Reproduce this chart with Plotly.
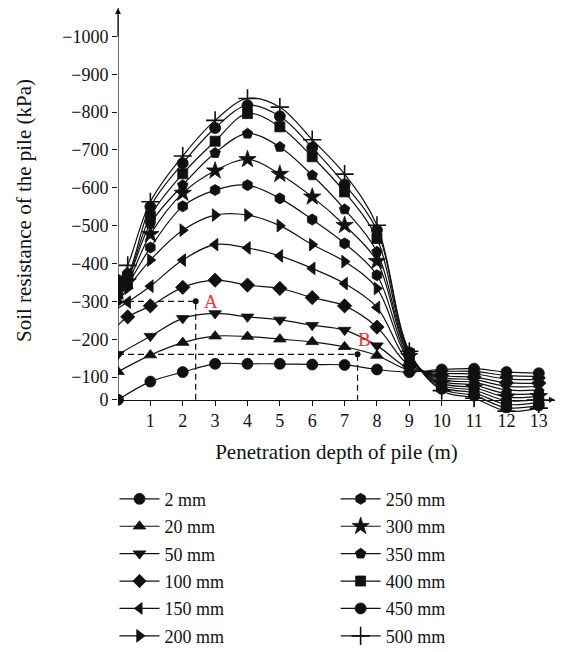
import plotly.graph_objects as go

# Penetration depth (m)
X_SMALL = [0, 1, 2, 3, 4, 5, 6, 7, 8, 9, 10, 11, 12, 13]
X_LARGE = [0, 0.3, 1, 2, 3, 4, 5, 6, 7, 8, 9, 10, 11, 12, 13]

# Soil resistance (kPa) for each pile displacement
R_2 = [-40, -88, -113, -135, -135, -135, -133, -132, -120, -113, -120, -122, -113, -110]
R_20 = [-114, -158, -191, -208, -207, -200, -193, -180, -157, -118, -115, -115, -104, -102]
R_50 = [-160, -208, -255, -268, -259, -251, -237, -224, -183, -122, -110, -108, -95, -93]
R_100 = [-237, -259, -288, -337, -356, -343, -334, -310, -288, -232, -130, -104, -100, -85, -84]
R_150 = [-282, -298, -340, -409, -450, -441, -420, -387, -347, -284, -137, -99, -93, -76, -75]
R_200 = [-298, -335, -409, -488, -528, -528, -500, -450, -405, -334, -145, -94, -86, -66, -66]
R_250 = [-315, -345, -442, -551, -594, -607, -572, -516, -453, -369, -150, -89, -79, -56, -57]
R_300 = [-325, -352, -477, -586, -645, -675, -636, -576, -501, -406, -155, -84, -72, -47, -49]
R_350 = [-335, -360, -505, -607, -692, -743, -708, -633, -543, -431, -158, -79, -65, -38, -41]
R_400 = [-342, -365, -525, -637, -723, -796, -761, -682, -589, -466, -162, -74, -58, -28, -33]
R_450 = [-356, -372, -550, -665, -758, -818, -789, -706, -609, -488, -165, -69, -51, -19, -25]
R_500 = [-345, -395, -563, -684, -778, -836, -813, -727, -636, -501, -168, -64, -44, -10, -18]

SERIES = [
    ("2 mm", X_SMALL, R_2, "circle", True),
    ("20 mm", X_SMALL, R_20, "triangle-up", True),
    ("50 mm", X_SMALL, R_50, "triangle-down", True),
    ("100 mm", X_LARGE, R_100, "diamond", False),
    ("150 mm", X_LARGE, R_150, "triangle-left", False),
    ("200 mm", X_LARGE, R_200, "triangle-right", True),
    ("250 mm", X_LARGE, R_250, "hexagon", True),
    ("300 mm", X_LARGE, R_300, "star", True),
    ("350 mm", X_LARGE, R_350, "pentagon", True),
    ("400 mm", X_LARGE, R_400, "square", True),
    ("450 mm", X_LARGE, R_450, "circle", True),
    ("500 mm", X_LARGE, R_500, "cross-thin", True),
]

# Reference points A and B with their dashed guides
POINT_LABELS = ["A", "B"]
POINT_X = [2.4, 7.4]
POINT_Y = [-300, -160]

Y_TICKS = [-100, -200, -300, -400, -500, -600, -700, -800, -900, -1000]
X_TICKS = [1, 2, 3, 4, 5, 6, 7, 8, 9, 10, 11, 12, 13]

Y_BASE = -40      # where the depth axis crosses
Y_LOW = -5        # lowest value shown (curves may dip below the depth axis)
Y_TOP = -1075
X_END = 13.5

FONT = "Liberation Serif"
INK = "#111111"
RED = "#e8362d"

fig = go.Figure()

for i, (name, xs, ys, sym, first_marker) in enumerate(SERIES):
    size = {"star": 13, "cross-thin": 13, "square": 10}.get(sym, 11)
    sizes = [size] * len(xs)
    if not first_marker:
        sizes[0] = 0
    if sym == "cross-thin":
        mline = dict(width=1.6, color=INK)
    else:
        mline = dict(width=0.8, color=INK)
    fig.add_trace(go.Scatter(
        x=xs, y=ys, name=name, mode="lines+markers",
        line=dict(color=INK, width=1.2, shape="spline", smoothing=1.0),
        marker=dict(symbol=sym, size=sizes, color=INK, opacity=1, line=mline),
        legendgroup=name,
        legend="legend" if i < 6 else "legend2",
    ))

for lbl, px, py in zip(POINT_LABELS, POINT_X, POINT_Y):
    fig.add_trace(go.Scatter(
        x=[0, px, px], y=[py, py, Y_BASE], mode="lines",
        line=dict(color=INK, width=1.2, dash="6px,4px"),
        showlegend=False, hoverinfo="skip",
    ))
    fig.add_trace(go.Scatter(
        x=[px], y=[py], mode="markers",
        marker=dict(size=6, color=INK), showlegend=False,
    ))

fig.add_annotation(x=POINT_X[0], y=POINT_Y[0], text=POINT_LABELS[0], showarrow=False,
                   xanchor="left", yanchor="middle", xshift=6,
                   font=dict(family=FONT, size=19, color=RED))
fig.add_annotation(x=POINT_X[1], y=POINT_Y[1], text=POINT_LABELS[1], showarrow=False,
                   xanchor="left", yanchor="bottom", xshift=-2, yshift=2,
                   font=dict(family=FONT, size=19, color=RED))

# resistance axis line from the depth axis up to the arrowhead
fig.add_shape(type="line", xref="x", yref="y", x0=0, x1=0, y0=Y_BASE, y1=Y_TOP,
              line=dict(color=INK, width=1.2))

# axis arrowheads
fig.add_annotation(x=0, y=Y_TOP, xref="x", yref="y", text="", showarrow=True,
                   ax=0, ay=30, arrowhead=2, arrowsize=1, arrowwidth=1.2, arrowcolor=INK)
fig.add_annotation(x=X_END, y=Y_BASE, xref="x", yref="y", text="", showarrow=True,
                   ax=-30, ay=0, arrowhead=2, arrowsize=1, arrowwidth=1.2, arrowcolor=INK)

tick_font = dict(family=FONT, size=18, color=INK)
title_font = dict(family=FONT, size=21, color=INK)
legend_font = dict(family=FONT, size=18, color=INK)

x_axis_pos = (Y_LOW - Y_BASE) / (Y_LOW - Y_TOP)

fig.update_layout(
    width=565, height=652,
    margin=dict(l=118, r=10, t=8, b=239, autoexpand=False),
    plot_bgcolor="white", paper_bgcolor="white",
    showlegend=True,
    xaxis=dict(
        range=[0, X_END], tickvals=X_TICKS, ticktext=[str(v) for v in X_TICKS],
        anchor="free", position=x_axis_pos,
        showline=True, linecolor=INK, linewidth=1.2, ticks="outside", ticklen=5,
        tickcolor=INK, showgrid=False, zeroline=False, tickfont=tick_font,
        title=dict(text="Penetration depth of pile (m)", font=title_font, standoff=13),
        automargin=False,
    ),
    yaxis=dict(
        range=[Y_LOW, Y_TOP],
        tickvals=[Y_BASE] + Y_TICKS,
        ticktext=["0"] + ["\u2212" + str(-v) for v in Y_TICKS],
        showline=False, ticks="outside", ticklen=5,
        tickcolor=INK, showgrid=False, zeroline=False, tickfont=tick_font,
        title=dict(text="Soil resistance of the pile (kPa)", font=title_font, standoff=24),
        automargin=False,
    ),
    legend=dict(x=-0.008, y=-0.167, xanchor="left", yanchor="top", itemwidth=40,
                font=legend_font, tracegroupgap=1, bgcolor="rgba(0,0,0,0)"),
    legend2=dict(x=0.498, y=-0.167, xanchor="left", yanchor="top", itemwidth=40,
                 font=legend_font, tracegroupgap=1, bgcolor="rgba(0,0,0,0)"),
)

fig.write_html("out.html")
